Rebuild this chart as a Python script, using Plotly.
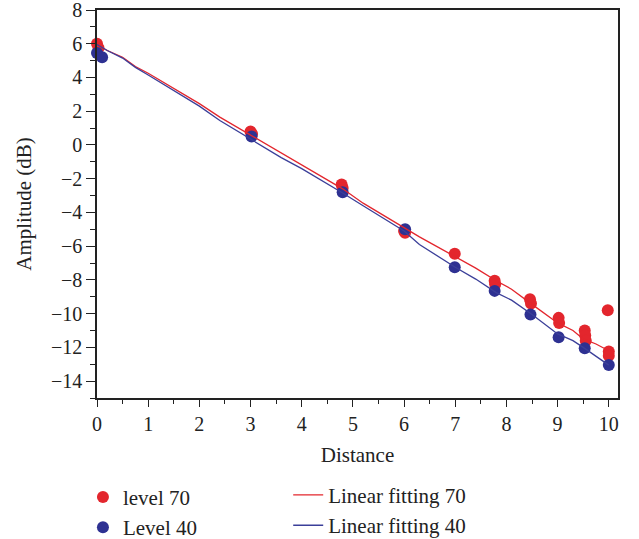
import plotly.graph_objects as go

# Scatter data
red_x = [0.0, 0.03, 3.0, 3.03, 4.78, 4.8, 6.0, 6.02, 6.99, 7.77, 7.78, 8.46, 8.48, 9.02, 9.03, 9.53, 9.54, 9.55, 9.98, 10.0, 10.0]
red_y = [6.0, 5.75, 0.8, 0.65, -2.35, -2.55, -5.1, -5.2, -6.45, -8.05, -8.25, -9.15, -9.4, -10.25, -10.55, -11.0, -11.3, -11.6, -9.8, -12.25, -12.5]

blue_x = [0.0, 0.1, 3.02, 4.8, 6.02, 6.99, 7.77, 8.47, 9.02, 9.53, 10.0]
blue_y = [5.45, 5.2, 0.5, -2.8, -5.0, -7.25, -8.65, -10.05, -11.4, -12.05, -13.05]

# Fitting lines
fit_x = [0, 0.2, 0.5, 0.75, 1.0, 1.5, 2.0, 2.4, 2.8, 3.2, 3.6, 4.0, 4.4, 4.8, 5.2, 5.5, 6.0, 6.3, 6.6, 7.0, 7.4, 7.8, 8.1, 8.5, 9.0, 9.3, 9.5, 9.75, 10.0]
fit70_y = [5.95, 5.6, 5.2, 4.65, 4.25, 3.35, 2.45, 1.65, 0.95, 0.2, -0.5, -1.2, -1.85, -2.6, -3.45, -4.0, -4.9, -5.45, -5.95, -6.6, -7.3, -8.05, -8.55, -9.45, -10.55, -11.0, -11.5, -11.8, -12.2]
fit40_y = [5.95, 5.6, 5.15, 4.6, 4.15, 3.25, 2.3, 1.45, 0.7, 0.0, -0.75, -1.4, -2.1, -2.85, -3.6, -4.15, -5.1, -5.9, -6.5, -7.25, -7.95, -8.75, -9.2, -10.05, -11.2, -11.6, -12.0, -12.5, -13.05]

RED = "#e3262d"
BLUE = "#2e3192"
FONT = "Liberation Serif"
INK = "#222222"

fig = go.Figure()
fig.add_trace(go.Scatter(x=red_x, y=red_y, mode="markers", name="level 70",
                         marker=dict(color=RED, size=12), cliponaxis=False, legend="legend"))
fig.add_trace(go.Scatter(x=blue_x, y=blue_y, mode="markers", name="Level 40",
                         marker=dict(color=BLUE, size=12), cliponaxis=False, legend="legend"))
fig.add_trace(go.Scatter(x=fit_x, y=fit70_y, mode="lines", name="Linear fitting 70",
                         line=dict(color=RED, width=1.3), legend="legend2"))
fig.add_trace(go.Scatter(x=fit_x, y=fit40_y, mode="lines", name="Linear fitting 40",
                         line=dict(color="#3b3f99", width=1.3), legend="legend2"))

axis_common = dict(showline=True, linecolor=INK, linewidth=1.5, mirror=True,
                   ticks="outside", tickcolor=INK, showgrid=False, zeroline=False,
                   automargin=False, ticklabeloverflow="allow",
                   tickfont=dict(family=FONT, size=20, color=INK))

fig.update_xaxes(range=[0, 10.18], tick0=0, dtick=1, ticklen=7, tickangle=0,
                 minor=dict(dtick=0.5, tick0=0, ticks="outside", ticklen=4, tickcolor=INK),
                 title=dict(text="Distance", font=dict(family=FONT, size=21, color=INK), standoff=14),
                 **axis_common)
fig.update_yaxes(range=[-15, 8], tick0=0, dtick=2, ticklen=9,
                 minor=dict(dtick=1, tick0=0, ticks="outside", ticklen=5, tickcolor=INK),
                 title=dict(text="Amplitude (dB)", font=dict(family=FONT, size=21, color=INK), standoff=14),
                 **axis_common)

legend_common = dict(font=dict(family=FONT, size=21, color=INK), bgcolor="rgba(0,0,0,0)",
                     orientation="v", xanchor="left", yanchor="top", tracegroupgap=0)
fig.update_layout(
    width=639, height=539,
    margin=dict(l=97, r=21, t=10, b=141, autoexpand=False),
    paper_bgcolor="white", plot_bgcolor="white",
    legend=dict(x=-0.027, y=-0.203, **legend_common),
    legend2=dict(x=0.367, y=-0.198, **legend_common),
)

fig.write_html("out.html")
